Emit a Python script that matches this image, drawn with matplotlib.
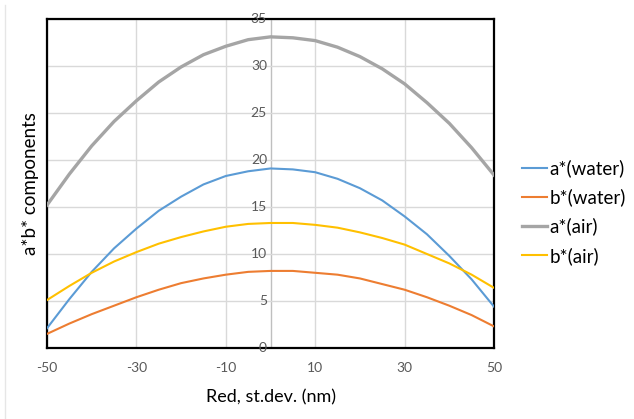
import matplotlib
matplotlib.use("Agg")
import matplotlib.pyplot as plt
from matplotlib.lines import Line2D

plt.rcParams['font.family'] = ['Lato', 'DejaVu Sans']
plt.rcParams['axes.unicode_minus'] = False

# values (every 5 nm)
red_sd = [-50, -45, -40, -35, -30, -25, -20, -15, -10, -5, 0,
          5, 10, 15, 20, 25, 30, 35, 40, 45, 50]
a_water = [2.1, 5.2, 8.1, 10.6, 12.7, 14.6, 16.1, 17.4, 18.3, 18.8, 19.1,
           19.0, 18.7, 18.0, 17.0, 15.7, 14.0, 12.1, 9.8, 7.3, 4.4]
b_water = [1.5, 2.6, 3.6, 4.5, 5.4, 6.2, 6.9, 7.4, 7.8, 8.1, 8.2,
           8.2, 8.0, 7.8, 7.4, 6.8, 6.2, 5.4, 4.5, 3.5, 2.3]
a_air = [15.2, 18.5, 21.5, 24.1, 26.3, 28.3, 29.9, 31.2, 32.1, 32.8, 33.1,
         33.0, 32.7, 32.0, 31.0, 29.7, 28.1, 26.1, 23.9, 21.3, 18.4]
b_air = [5.1, 6.6, 8.0, 9.2, 10.2, 11.1, 11.8, 12.4, 12.9, 13.2, 13.3,
         13.3, 13.1, 12.8, 12.3, 11.7, 11.0, 10.0, 9.0, 7.8, 6.4]

x_ticks = [-50, -30, -10, 10, 30, 50]
y_ticks = [0, 5, 10, 15, 20, 25, 30, 35]

fig = plt.figure(figsize=(6.34, 4.19), dpi=100)
ax = fig.add_axes([47 / 634, 1 - 348 / 419, 447 / 634, 329 / 419])

ax.plot(red_sd, a_water, color='#5B9BD5', lw=1.5, label='a*(water)', zorder=3)
ax.plot(red_sd, b_water, color='#ED7D31', lw=1.5, label='b*(water)', zorder=3)
ax.plot(red_sd, a_air, color='#A5A5A5', lw=2.4, label='a*(air)', zorder=3)
ax.plot(red_sd, b_air, color='#FFC000', lw=1.5, label='b*(air)', zorder=3)

ax.set_xlim(-50, 50)
ax.set_ylim(0, 35)
ax.set_xticks(x_ticks)
ax.set_yticks(y_ticks)
ax.grid(True, color='#d9d9d9', lw=1, zorder=0)
ax.axvline(0, color='#bfbfbf', lw=1, zorder=1)
ax.tick_params(axis='both', length=0, labelsize=10, colors='#595959')
ax.tick_params(axis='x', pad=10)
ax.set_yticklabels([])
for v in y_ticks:
    ax.text(-0.8, v, str(v), ha='right', va='center', fontsize=10, color='#595959')
for s in ax.spines.values():
    s.set_color('black')
    s.set_linewidth(1.6)

ax.set_xlabel('Red, st.dev. (nm)', fontsize=13, labelpad=11)
ax.set_ylabel('a*b* components', fontsize=13.5, labelpad=2)

ax.legend(loc='center left', bbox_to_anchor=(1.063, 0.413), frameon=False,
          fontsize=13.5, handlelength=1.35, handletextpad=0.1, labelspacing=0.6,
          borderpad=0, borderaxespad=0)

fig.add_artist(Line2D([5 / 634, 5 / 634], [0, 1 - 5 / 419], color='#e6e6e6', lw=1))

fig.savefig('out.png', dpi=100)
